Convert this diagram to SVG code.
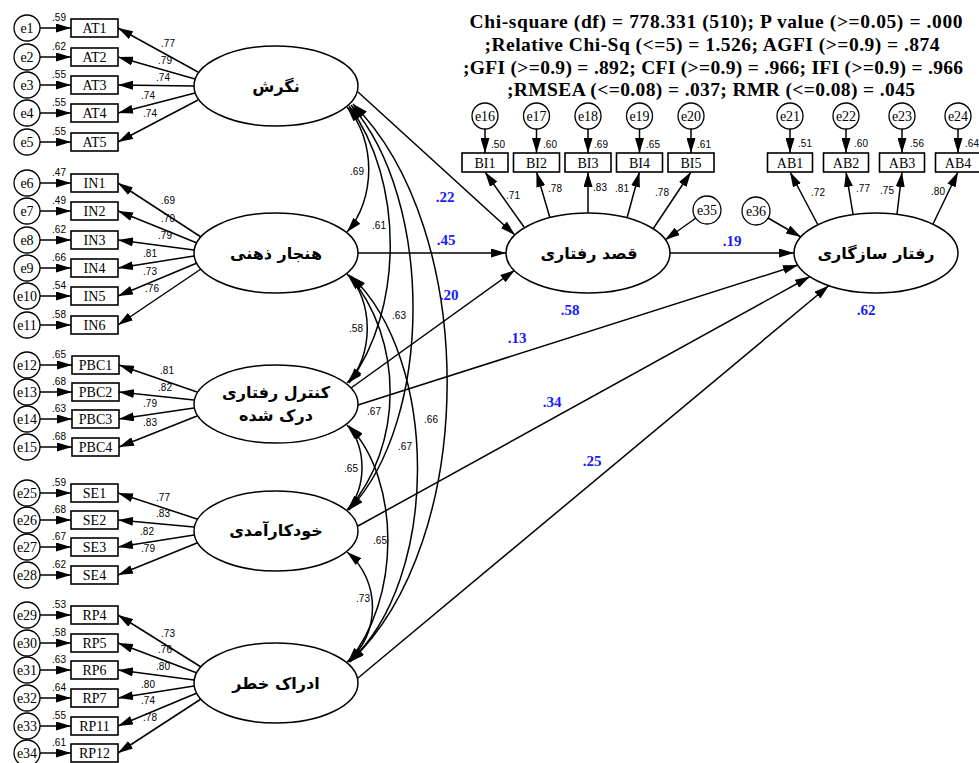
<svg xmlns="http://www.w3.org/2000/svg" width="979" height="763" viewBox="0 0 979 763">
<defs>
<marker id="ah" viewBox="0 0 15 9" refX="15" refY="4.5" markerWidth="15" markerHeight="9" markerUnits="userSpaceOnUse" orient="auto-start-reverse"><path d="M0,0 L15,4.5 L0,9 z" fill="#000"/></marker>
<style>
.ln{stroke:#000;stroke-width:1.5;fill:none}
.ar{marker-end:url(#ah)}
.dbl{marker-start:url(#ah);marker-end:url(#ah)}
.ec{fill:#fff;stroke:#000;stroke-width:1.3}
.bx{fill:#fff;stroke:#000;stroke-width:1.6}
.lat{fill:#fff;stroke:#000;stroke-width:1.5}
.t{font-family:"Liberation Serif",serif;font-size:14px;text-anchor:middle}
.s{font-family:"Liberation Sans",sans-serif;font-size:10px;text-anchor:middle}
.fa{font-family:"DejaVu Sans",sans-serif;font-weight:bold;font-size:16px;text-anchor:middle}
.b{font-family:"Liberation Serif",serif;font-weight:bold;font-size:15px;fill:#1a1aff;text-anchor:middle}
.h{font-family:"Liberation Serif",serif;font-weight:bold;font-size:19.5px;text-anchor:middle}
</style>
</defs>
<rect width="979" height="763" fill="#fff"/>

<g id="title">
<text class="h" x="716" y="28" textLength="493">Chi-square (df) = 778.331 (510);  P value (&gt;=0.05) = .000</text>
<text class="h" x="712" y="51" textLength="455">;Relative Chi-Sq (&lt;=5) = 1.526; AGFI (&gt;=0.9) = .874</text>
<text class="h" x="713" y="74" textLength="500">;GFI (&gt;=0.9) = .892; CFI (&gt;=0.9) = .966; IFI (&gt;=0.9) = .966</text>
<text class="h" x="711" y="96" textLength="408">;RMSEA (&lt;=0.08) = .037; RMR (&lt;=0.08) = .045</text>
</g>

<g id="connectors">
<line class="ln ar" x1="40" y1="28" x2="71" y2="28"/>
<line class="ln ar" x1="40" y1="57" x2="71" y2="57"/>
<line class="ln ar" x1="40" y1="85" x2="71" y2="85"/>
<line class="ln ar" x1="40" y1="113" x2="71" y2="113"/>
<line class="ln ar" x1="40" y1="142" x2="71" y2="142"/>
<line class="ln ar" x1="40" y1="183" x2="71" y2="183"/>
<line class="ln ar" x1="40" y1="211" x2="71" y2="211"/>
<line class="ln ar" x1="40" y1="240" x2="71" y2="240"/>
<line class="ln ar" x1="40" y1="268" x2="71" y2="268"/>
<line class="ln ar" x1="40" y1="296" x2="71" y2="296"/>
<line class="ln ar" x1="40" y1="325" x2="71" y2="325"/>
<line class="ln ar" x1="40" y1="365" x2="72" y2="365"/>
<line class="ln ar" x1="40" y1="392" x2="72" y2="392"/>
<line class="ln ar" x1="40" y1="419" x2="72" y2="419"/>
<line class="ln ar" x1="40" y1="447" x2="72" y2="447"/>
<line class="ln ar" x1="40" y1="493" x2="71" y2="493"/>
<line class="ln ar" x1="40" y1="520" x2="71" y2="520"/>
<line class="ln ar" x1="40" y1="547" x2="71" y2="547"/>
<line class="ln ar" x1="40" y1="575" x2="71" y2="575"/>
<line class="ln ar" x1="40" y1="615" x2="71" y2="615"/>
<line class="ln ar" x1="40" y1="643" x2="71" y2="643"/>
<line class="ln ar" x1="40" y1="670" x2="71" y2="670"/>
<line class="ln ar" x1="40" y1="698" x2="71" y2="698"/>
<line class="ln ar" x1="40" y1="726" x2="71" y2="726"/>
<line class="ln ar" x1="40" y1="753" x2="71" y2="753"/>
<line class="ln ar" x1="198" y1="72" x2="118" y2="28"/>
<line class="ln ar" x1="195" y1="79" x2="118" y2="57"/>
<line class="ln ar" x1="194" y1="86" x2="118" y2="85"/>
<line class="ln ar" x1="195" y1="93" x2="118" y2="113"/>
<line class="ln ar" x1="198" y1="100" x2="118" y2="142"/>
<line class="ln ar" x1="201" y1="237" x2="118" y2="183"/>
<line class="ln ar" x1="197" y1="243" x2="118" y2="211"/>
<line class="ln ar" x1="194" y1="250" x2="118" y2="240"/>
<line class="ln ar" x1="194" y1="256" x2="118" y2="268"/>
<line class="ln ar" x1="197" y1="263" x2="118" y2="296"/>
<line class="ln ar" x1="201" y1="269" x2="118" y2="325"/>
<line class="ln ar" x1="197" y1="392" x2="119" y2="365"/>
<line class="ln ar" x1="194" y1="400" x2="119" y2="392"/>
<line class="ln ar" x1="194" y1="408" x2="119" y2="419"/>
<line class="ln ar" x1="197" y1="416" x2="119" y2="447"/>
<line class="ln ar" x1="197" y1="519" x2="118" y2="493"/>
<line class="ln ar" x1="194" y1="527" x2="118" y2="520"/>
<line class="ln ar" x1="194" y1="535" x2="118" y2="547"/>
<line class="ln ar" x1="197" y1="543" x2="118" y2="575"/>
<line class="ln ar" x1="201" y1="667" x2="118" y2="615"/>
<line class="ln ar" x1="197" y1="673" x2="118" y2="643"/>
<line class="ln ar" x1="194" y1="680" x2="118" y2="670"/>
<line class="ln ar" x1="194" y1="686" x2="118" y2="698"/>
<line class="ln ar" x1="197" y1="693" x2="118" y2="726"/>
<line class="ln ar" x1="201" y1="699" x2="118" y2="753"/>
<line class="ln ar" x1="485" y1="129" x2="485" y2="153"/>
<line class="ln ar" x1="536.5" y1="129" x2="536.5" y2="153"/>
<line class="ln ar" x1="588" y1="129" x2="588" y2="153"/>
<line class="ln ar" x1="639.5" y1="129" x2="639.5" y2="153"/>
<line class="ln ar" x1="691" y1="129" x2="691" y2="153"/>
<line class="ln ar" x1="524" y1="227" x2="485" y2="172"/>
<line class="ln ar" x1="550" y1="218" x2="536.5" y2="172"/>
<line class="ln ar" x1="588" y1="213" x2="588" y2="172"/>
<line class="ln ar" x1="627" y1="218" x2="639.5" y2="172"/>
<line class="ln ar" x1="653" y1="229" x2="691" y2="172"/>
<line class="ln ar" x1="790" y1="129" x2="790" y2="153"/>
<line class="ln ar" x1="846" y1="129" x2="846" y2="153"/>
<line class="ln ar" x1="902" y1="129" x2="902" y2="153"/>
<line class="ln ar" x1="958" y1="129" x2="958" y2="153"/>
<line class="ln ar" x1="818" y1="225" x2="790" y2="172"/>
<line class="ln ar" x1="853" y1="214" x2="846" y2="172"/>
<line class="ln ar" x1="897" y1="214" x2="902" y2="172"/>
<line class="ln ar" x1="933" y1="224" x2="958" y2="172"/>
<line class="ln ar" x1="696" y1="218" x2="665" y2="240"/>
<line class="ln ar" x1="768" y1="218" x2="801" y2="237"/>
<line class="ln ar" x1="358" y1="92" x2="515" y2="235"/>
<line class="ln ar" x1="358" y1="253" x2="506" y2="253"/>
<line class="ln ar" x1="351" y1="388" x2="515" y2="270"/>
<line class="ln ar" x1="670" y1="253" x2="794" y2="253"/>
<line class="ln ar" x1="358" y1="405" x2="798" y2="265"/>
<line class="ln ar" x1="358" y1="526" x2="810" y2="276.5"/>
<line class="ln ar" x1="358" y1="678" x2="829" y2="285.5"/>
<path class="ln dbl" d="M347,107 C376,140 376,199 347,232"/>
<path class="ln dbl" d="M349,106 C404,180 404,310 349,383"/>
<path class="ln dbl" d="M351,105 C434,200 434,420 349,510"/>
<path class="ln dbl" d="M353,104 C479,230 479,540 350,662"/>
<path class="ln dbl" d="M347,274 C374,300 374,357 347,383"/>
<path class="ln dbl" d="M349,275 C404,340 404,445 348,510"/>
<path class="ln dbl" d="M351,276 C440,360 440,580 349,662"/>
<path class="ln dbl" d="M347,425 C367,445 367,490 347,510"/>
<path class="ln dbl" d="M349,426 C401,480 401,600 348,662"/>
<path class="ln dbl" d="M347,552 C381,580 381,635 347,662"/>
</g>

<g id="labels">
<text class="s" x="59" y="21">.59</text><text class="s" x="59" y="50">.62</text><text class="s" x="59" y="78">.55</text><text class="s" x="59" y="106">.55</text><text class="s" x="59" y="135">.55</text>
<text class="s" x="59" y="176">.47</text><text class="s" x="59" y="204">.49</text><text class="s" x="59" y="233">.62</text><text class="s" x="59" y="261">.66</text><text class="s" x="59" y="289">.54</text><text class="s" x="59" y="318">.58</text>
<text class="s" x="59" y="358">.65</text><text class="s" x="59" y="385">.68</text><text class="s" x="59" y="412">.63</text><text class="s" x="59" y="440">.68</text>
<text class="s" x="59" y="486">.59</text><text class="s" x="59" y="513">.68</text><text class="s" x="59" y="540">.67</text><text class="s" x="59" y="568">.62</text>
<text class="s" x="59" y="608">.53</text><text class="s" x="59" y="636">.58</text><text class="s" x="59" y="663">.63</text><text class="s" x="59" y="691">.64</text><text class="s" x="59" y="719">.55</text><text class="s" x="59" y="746">.61</text>
<text class="s" x="168" y="47">.77</text><text class="s" x="165" y="64">.79</text><text class="s" x="163" y="81">.74</text><text class="s" x="148" y="99">.74</text><text class="s" x="150" y="117">.74</text>
<text class="s" x="168" y="204">.69</text><text class="s" x="168" y="222">.70</text><text class="s" x="165" y="239">.79</text><text class="s" x="150" y="257">.81</text><text class="s" x="150" y="275">.73</text><text class="s" x="152" y="292">.76</text>
<text class="s" x="167" y="374">.81</text><text class="s" x="165" y="391">.82</text><text class="s" x="150" y="407">.79</text><text class="s" x="150" y="426">.83</text>
<text class="s" x="163" y="501">.77</text><text class="s" x="163" y="517">.83</text><text class="s" x="147" y="535">.82</text><text class="s" x="148" y="552">.79</text>
<text class="s" x="168" y="637">.73</text><text class="s" x="165" y="653">.76</text><text class="s" x="163" y="670">.80</text><text class="s" x="148" y="688">.80</text><text class="s" x="148" y="704">.74</text><text class="s" x="150" y="721">.78</text>
<text class="s" x="498" y="148">.50</text><text class="s" x="550" y="148">.60</text><text class="s" x="601" y="148">.69</text><text class="s" x="653" y="148">.65</text><text class="s" x="704" y="148">.61</text>
<text class="s" x="513" y="199">.71</text><text class="s" x="555" y="192">.78</text><text class="s" x="600" y="191">.83</text><text class="s" x="622" y="192">.81</text><text class="s" x="662" y="196">.78</text>
<text class="s" x="805" y="147">.51</text><text class="s" x="861" y="147">.60</text><text class="s" x="917" y="147">.56</text><text class="s" x="972" y="147">.64</text>
<text class="s" x="818" y="196">.72</text><text class="s" x="863" y="192">.77</text><text class="s" x="887" y="194">.75</text><text class="s" x="938" y="195">.80</text>
<text class="s" x="357" y="175">.69</text><text class="s" x="379" y="229">.61</text><text class="s" x="356" y="332">.58</text><text class="s" x="399" y="319">.63</text>
<text class="s" x="374" y="415">.67</text><text class="s" x="405" y="450">.67</text><text class="s" x="431" y="423">.66</text><text class="s" x="351" y="472">.65</text>
<text class="s" x="380" y="544">.65</text><text class="s" x="363" y="602">.73</text>
<text class="b" x="445" y="202">.22</text><text class="b" x="446" y="245">.45</text><text class="b" x="449" y="300">.20</text>
<text class="b" x="570" y="315">.58</text><text class="b" x="517" y="343">.13</text><text class="b" x="552" y="407">.34</text>
<text class="b" x="592" y="466">.25</text><text class="b" x="732" y="246">.19</text><text class="b" x="866" y="315">.62</text>
</g>

<g id="e1"><circle class="ec" cx="27" cy="28" r="13"/><text class="t" x="27" y="33">e1</text></g>
<g id="e2"><circle class="ec" cx="27" cy="57" r="13"/><text class="t" x="27" y="62">e2</text></g>
<g id="e3"><circle class="ec" cx="27" cy="85" r="13"/><text class="t" x="27" y="90">e3</text></g>
<g id="e4"><circle class="ec" cx="27" cy="113" r="13"/><text class="t" x="27" y="118">e4</text></g>
<g id="e5"><circle class="ec" cx="27" cy="142" r="13"/><text class="t" x="27" y="147">e5</text></g>
<g id="e6"><circle class="ec" cx="27" cy="183" r="13"/><text class="t" x="27" y="188">e6</text></g>
<g id="e7"><circle class="ec" cx="27" cy="211" r="13"/><text class="t" x="27" y="216">e7</text></g>
<g id="e8"><circle class="ec" cx="27" cy="240" r="13"/><text class="t" x="27" y="245">e8</text></g>
<g id="e9"><circle class="ec" cx="27" cy="268" r="13"/><text class="t" x="27" y="273">e9</text></g>
<g id="e10"><circle class="ec" cx="27" cy="296" r="13"/><text class="t" x="27" y="301">e10</text></g>
<g id="e11"><circle class="ec" cx="27" cy="325" r="13"/><text class="t" x="27" y="330">e11</text></g>
<g id="e12"><circle class="ec" cx="27" cy="365" r="13"/><text class="t" x="27" y="370">e12</text></g>
<g id="e13"><circle class="ec" cx="27" cy="392" r="13"/><text class="t" x="27" y="397">e13</text></g>
<g id="e14"><circle class="ec" cx="27" cy="419" r="13"/><text class="t" x="27" y="424">e14</text></g>
<g id="e15"><circle class="ec" cx="27" cy="447" r="13"/><text class="t" x="27" y="452">e15</text></g>
<g id="e25"><circle class="ec" cx="27" cy="493" r="13"/><text class="t" x="27" y="498">e25</text></g>
<g id="e26"><circle class="ec" cx="27" cy="520" r="13"/><text class="t" x="27" y="525">e26</text></g>
<g id="e27"><circle class="ec" cx="27" cy="547" r="13"/><text class="t" x="27" y="552">e27</text></g>
<g id="e28"><circle class="ec" cx="27" cy="575" r="13"/><text class="t" x="27" y="580">e28</text></g>
<g id="e29"><circle class="ec" cx="27" cy="615" r="13"/><text class="t" x="27" y="620">e29</text></g>
<g id="e30"><circle class="ec" cx="27" cy="643" r="13"/><text class="t" x="27" y="648">e30</text></g>
<g id="e31"><circle class="ec" cx="27" cy="670" r="13"/><text class="t" x="27" y="675">e31</text></g>
<g id="e32"><circle class="ec" cx="27" cy="698" r="13"/><text class="t" x="27" y="703">e32</text></g>
<g id="e33"><circle class="ec" cx="27" cy="726" r="13"/><text class="t" x="27" y="731">e33</text></g>
<g id="e34"><circle class="ec" cx="27" cy="753" r="13"/><text class="t" x="27" y="758">e34</text></g>

<g id="AT1"><rect class="bx" x="71" y="19" width="47" height="18"/><text class="t" x="94.5" y="33">AT1</text></g>
<g id="AT2"><rect class="bx" x="71" y="48" width="47" height="18"/><text class="t" x="94.5" y="62">AT2</text></g>
<g id="AT3"><rect class="bx" x="71" y="76" width="47" height="18"/><text class="t" x="94.5" y="90">AT3</text></g>
<g id="AT4"><rect class="bx" x="71" y="104" width="47" height="18"/><text class="t" x="94.5" y="118">AT4</text></g>
<g id="AT5"><rect class="bx" x="71" y="133" width="47" height="18"/><text class="t" x="94.5" y="147">AT5</text></g>
<g id="IN1"><rect class="bx" x="71" y="174" width="47" height="18"/><text class="t" x="94.5" y="188">IN1</text></g>
<g id="IN2"><rect class="bx" x="71" y="202" width="47" height="18"/><text class="t" x="94.5" y="216">IN2</text></g>
<g id="IN3"><rect class="bx" x="71" y="231" width="47" height="18"/><text class="t" x="94.5" y="245">IN3</text></g>
<g id="IN4"><rect class="bx" x="71" y="259" width="47" height="18"/><text class="t" x="94.5" y="273">IN4</text></g>
<g id="IN5"><rect class="bx" x="71" y="287" width="47" height="18"/><text class="t" x="94.5" y="301">IN5</text></g>
<g id="IN6"><rect class="bx" x="71" y="316" width="47" height="18"/><text class="t" x="94.5" y="330">IN6</text></g>
<g id="PBC1"><rect class="bx" x="72" y="356" width="47" height="18"/><text class="t" x="95.5" y="370">PBC1</text></g>
<g id="PBC2"><rect class="bx" x="72" y="383" width="47" height="18"/><text class="t" x="95.5" y="397">PBC2</text></g>
<g id="PBC3"><rect class="bx" x="72" y="410" width="47" height="18"/><text class="t" x="95.5" y="424">PBC3</text></g>
<g id="PBC4"><rect class="bx" x="72" y="438" width="47" height="18"/><text class="t" x="95.5" y="452">PBC4</text></g>
<g id="SE1"><rect class="bx" x="71" y="484" width="47" height="18"/><text class="t" x="94.5" y="498">SE1</text></g>
<g id="SE2"><rect class="bx" x="71" y="511" width="47" height="18"/><text class="t" x="94.5" y="525">SE2</text></g>
<g id="SE3"><rect class="bx" x="71" y="538" width="47" height="18"/><text class="t" x="94.5" y="552">SE3</text></g>
<g id="SE4"><rect class="bx" x="71" y="566" width="47" height="18"/><text class="t" x="94.5" y="580">SE4</text></g>
<g id="RP4"><rect class="bx" x="71" y="606" width="47" height="18"/><text class="t" x="94.5" y="620">RP4</text></g>
<g id="RP5"><rect class="bx" x="71" y="634" width="47" height="18"/><text class="t" x="94.5" y="648">RP5</text></g>
<g id="RP6"><rect class="bx" x="71" y="661" width="47" height="18"/><text class="t" x="94.5" y="675">RP6</text></g>
<g id="RP7"><rect class="bx" x="71" y="689" width="47" height="18"/><text class="t" x="94.5" y="703">RP7</text></g>
<g id="RP11"><rect class="bx" x="71" y="717" width="47" height="18"/><text class="t" x="94.5" y="731">RP11</text></g>
<g id="RP12"><rect class="bx" x="71" y="744" width="47" height="18"/><text class="t" x="94.5" y="758">RP12</text></g>

<g id="e16"><circle class="ec" cx="485" cy="116" r="13"/><text class="t" x="485" y="121">e16</text></g>
<g id="e17"><circle class="ec" cx="536.5" cy="116" r="13"/><text class="t" x="536.5" y="121">e17</text></g>
<g id="e18"><circle class="ec" cx="588" cy="116" r="13"/><text class="t" x="588" y="121">e18</text></g>
<g id="e19"><circle class="ec" cx="639.5" cy="116" r="13"/><text class="t" x="639.5" y="121">e19</text></g>
<g id="e20"><circle class="ec" cx="691" cy="116" r="13"/><text class="t" x="691" y="121">e20</text></g>
<g id="BI1"><rect class="bx" x="462" y="153" width="46" height="19"/><text class="t" x="485" y="167.5">BI1</text></g>
<g id="BI2"><rect class="bx" x="513.5" y="153" width="46" height="19"/><text class="t" x="536.5" y="167.5">BI2</text></g>
<g id="BI3"><rect class="bx" x="565" y="153" width="46" height="19"/><text class="t" x="588" y="167.5">BI3</text></g>
<g id="BI4"><rect class="bx" x="616.5" y="153" width="46" height="19"/><text class="t" x="639.5" y="167.5">BI4</text></g>
<g id="BI5"><rect class="bx" x="668" y="153" width="46" height="19"/><text class="t" x="691" y="167.5">BI5</text></g>

<g id="e21"><circle class="ec" cx="790" cy="116" r="13"/><text class="t" x="790" y="121">e21</text></g>
<g id="e22"><circle class="ec" cx="846" cy="116" r="13"/><text class="t" x="846" y="121">e22</text></g>
<g id="e23"><circle class="ec" cx="902" cy="116" r="13"/><text class="t" x="902" y="121">e23</text></g>
<g id="e24"><circle class="ec" cx="958" cy="116" r="13"/><text class="t" x="958" y="121">e24</text></g>
<g id="AB1"><rect class="bx" x="767.5" y="153" width="45" height="19"/><text class="t" x="790" y="167.5">AB1</text></g>
<g id="AB2"><rect class="bx" x="823.5" y="153" width="45" height="19"/><text class="t" x="846" y="167.5">AB2</text></g>
<g id="AB3"><rect class="bx" x="879.5" y="153" width="45" height="19"/><text class="t" x="902" y="167.5">AB3</text></g>
<g id="AB4"><rect class="bx" x="935.5" y="153" width="45" height="19"/><text class="t" x="958" y="167.5">AB4</text></g>

<g id="e35"><circle class="ec" cx="707" cy="210" r="14"/><text class="t" x="707" y="215">e35</text></g>
<g id="e36"><circle class="ec" cx="756" cy="211" r="14"/><text class="t" x="756" y="216">e36</text></g>

<g id="attitude"><ellipse class="lat" cx="276" cy="86" rx="82" ry="40"/><text class="fa" x="276" y="92">نگرش</text></g>
<g id="norm"><ellipse class="lat" cx="276" cy="253" rx="82" ry="40"/><text class="fa" x="276" y="259">هنجار ذهنی</text></g>
<g id="pbc"><ellipse class="lat" cx="276" cy="404" rx="82" ry="39"/><text class="fa" x="276" y="398">کنترل رفتاری</text><text class="fa" x="276" y="421">درک شده</text></g>
<g id="selfefficacy"><ellipse class="lat" cx="276" cy="531" rx="82" ry="40"/><text class="fa" x="276" y="536">خودکارآمدی</text></g>
<g id="risk"><ellipse class="lat" cx="276" cy="683" rx="82" ry="40"/><text class="fa" x="276" y="689">ادراک خطر</text></g>
<g id="intention"><ellipse class="lat" cx="588" cy="253" rx="82" ry="40"/><text class="fa" x="589" y="259">قصد رفتاری</text></g>
<g id="behavior"><ellipse class="lat" cx="876" cy="253" rx="82" ry="40"/><text class="fa" x="876" y="259">رفتار سازگاری</text></g>
</svg>
